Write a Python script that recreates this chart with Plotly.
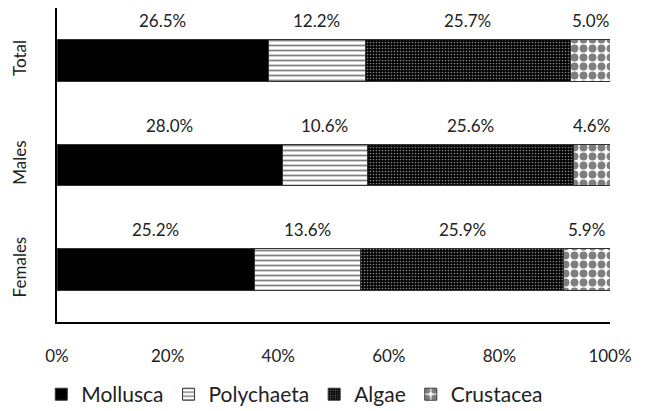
import plotly.graph_objects as go

groups = ["Females", "Males", "Total"]
series = ["Mollusca", "Polychaeta", "Algae", "Crustacea"]
mollusca = [25.2, 28.0, 26.5]
polychaeta = [13.6, 10.6, 12.2]
algae = [25.9, 25.6, 25.7]
crustacea = [5.9, 4.6, 5.0]
values = [mollusca, polychaeta, algae, crustacea]

patterns = [
    dict(shape="", fgcolor="black", bgcolor="black"),
    dict(shape="-", fgcolor="black", bgcolor="white", size=5, solidity=0.35),
    dict(shape=".", fgcolor="white", bgcolor="black", size=3, solidity=0.25),
    dict(shape=".", fgcolor="black", bgcolor="white", size=9, solidity=0.6),
]
colors = ["black", "white", "black", "white"]

FONT = "Lato"
fig = go.Figure()
for name, vals, pat, col in zip(series, values, patterns, colors):
    fig.add_trace(go.Bar(
        name=name, y=groups, x=vals, orientation="h",
        marker=dict(color=col, pattern=pat, line=dict(color="#333", width=1)),
    ))

# labels centred over each (normalised) segment
for gi, g in enumerate(groups):
    tot = sum(v[gi] for v in values)
    cum = 0
    for v in values:
        mid = (cum + v[gi] / 2) / tot * 100
        cum += v[gi]
        fig.add_annotation(x=mid, y=g, text=f"{v[gi]:.1f}%", showarrow=False,
                           yshift=40, font=dict(size=17, color="#222", family=FONT))

fig.update_layout(
    barmode="stack", barnorm="percent", bargap=0.6,
    width=645, height=411,
    margin=dict(l=57, r=35, t=8, b=87),
    plot_bgcolor="white", paper_bgcolor="white",
    font=dict(family=FONT, size=17, color="#222"),
    legend=dict(orientation="h", x=0.43, xanchor="center",
                yref="container", y=0.04, yanchor="middle",
                traceorder="normal", itemwidth=30, font=dict(size=21)),
    xaxis=dict(range=[0, 100], tickvals=[0, 20, 40, 60, 80, 100],
               ticktext=["0%", "20%", "40%", "60%", "80%", "100%"],
               showgrid=False, showline=True, linecolor="black", linewidth=1.5,
               ticks="", ticklabelstandoff=18, zeroline=False),
    yaxis=dict(showline=True, linecolor="black", linewidth=1.5, tickangle=-90,
               showgrid=False, ticks="", ticklabelstandoff=22),
)
fig.write_html("out.html")
